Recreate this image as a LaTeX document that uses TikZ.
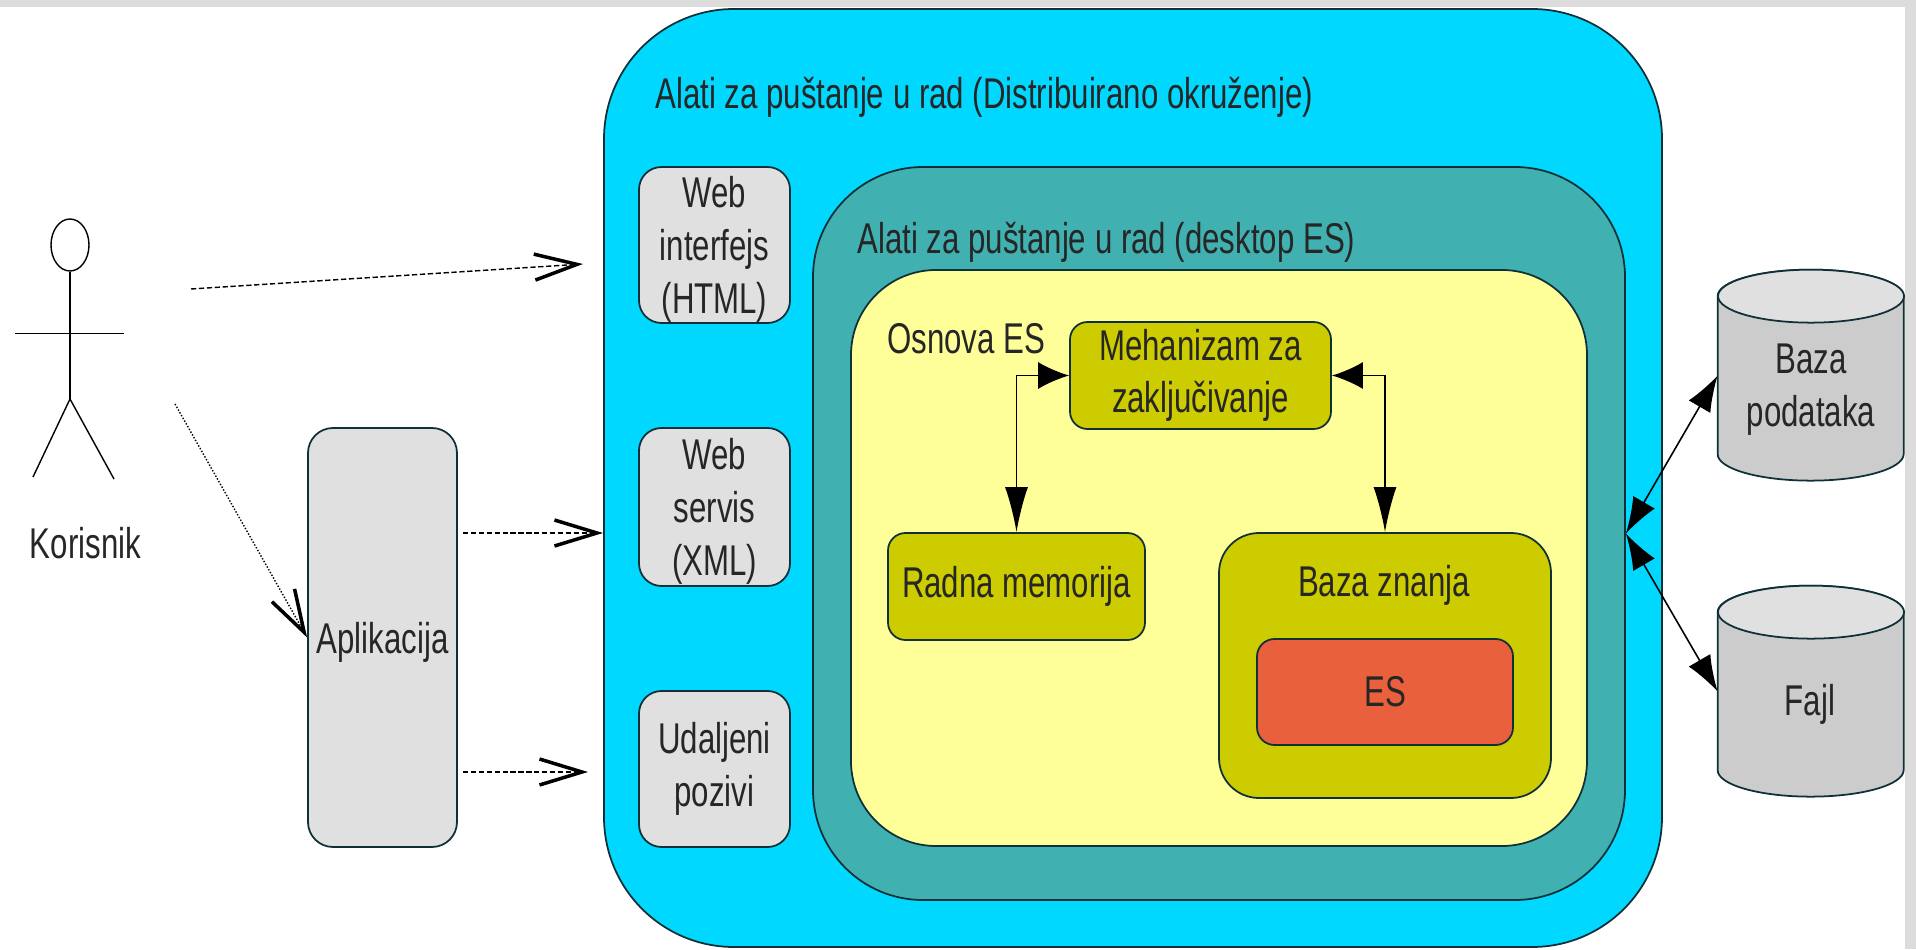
\documentclass[tikz,border=0pt]{standalone}
\usepackage{fontspec}
\setmainfont[FakeStretch=0.725]{Liberation Sans}
\usetikzlibrary{arrows.meta,shapes.geometric}
\definecolor{outercol}{HTML}{00D8FF}
\definecolor{tealcol}{HTML}{40B0B0}
\definecolor{yellowcol}{HTML}{FFFF99}
\definecolor{olivecol}{HTML}{CCCC00}
\definecolor{redcol}{HTML}{E8603C}
\definecolor{graycol}{HTML}{E0E0E0}
\definecolor{bandcol}{HTML}{DCDCDC}
\definecolor{edgecol}{HTML}{103038}
\tikzset{
	every node/.style={font=\fontsize{24.5}{30}\selectfont,text=black!85,align=center,inner sep=0pt},
	box/.style={draw=edgecol,line width=1pt},
	call/.style={dash pattern=on 3pt off 1.5pt,line width=0.8pt,-{Straight Barb[length=0.85cm,width=0.52cm,line width=2pt]}},
	link/.style={line width=0.9pt,{Latex[length=0.72cm,width=0.5cm]}-{Latex[length=0.72cm,width=0.5cm]}},
	turn/.style={line width=1pt,{Latex[length=0.62cm,width=0.54cm]}-{Latex[length=0.9cm,width=0.46cm]}}
}
\begin{document}
\begin{tikzpicture}
	\useasboundingbox (0,0) rectangle (38.32,18.98);
	\fill[bandcol] (0,18.84) rectangle (38.32,18.98);
	\fill[bandcol] (38.1,0) rectangle (38.32,18.98);

	\path
	coordinate (aux0) at (3.82,13.2)
	coordinate (aux1) at (11.66,13.7)
	coordinate (aux2) at (3.5,10.9)
	coordinate (aux3) at (9.26,8.32)
	coordinate (aux4) at (12.06,8.32)
	coordinate (aux5) at (9.26,3.54)
	coordinate (aux6) at (11.76,3.54)
	coordinate (hip) at (1.4,11)
	coordinate (armL) at (0.3,12.31)
	coordinate (armR) at (2.48,12.31)
	coordinate (legL) at (0.66,9.44)
	coordinate (legR) at (2.28,9.4)
	;

	% containers
	\node[box,fill=outercol,rounded corners=2.6cm,minimum width=21.16cm,minimum height=18.76cm] (outer) at (22.66,9.42) {};
	\node[box,fill=tealcol,rounded corners=2.2cm,minimum width=16.24cm,minimum height=14.66cm] (desk) at (24.38,8.31) {};
	\node[box,fill=yellowcol,rounded corners=1.7cm,minimum width=14.72cm,minimum height=11.52cm] (core) at (24.38,7.82) {};

	\node[anchor=west] (outerT) at (13.1,17.03) {Alati za puštanje u rad (Distribuirano okruženje)};
	\node[anchor=west] (deskT) at (17.14,14.13) {Alati za puštanje u rad (desktop ES)};
	\node[anchor=west] (coreT) at (17.74,12.2) {Osnova ES};

	% left column
	\node[box,fill=graycol,rounded corners=0.45cm,minimum width=3.02cm,minimum height=3.12cm,text depth=0pt] (html) at (14.29,14.08) {Web\\interfejs\\(HTML)};
	\node[box,fill=graycol,rounded corners=0.45cm,minimum width=3.02cm,minimum height=3.16cm,text depth=0pt] (xml) at (14.29,8.84) {Web\\servis\\(XML)};
	\node[box,fill=graycol,rounded corners=0.45cm,minimum width=3.02cm,minimum height=3.12cm] (rpc) at (14.29,3.6) {Udaljeni\\pozivi};

	% core
	\node[box,fill=olivecol,rounded corners=0.35cm,minimum width=5.22cm,minimum height=2.14cm] (infer) at (24.01,11.47) {Mehanizam za\\zaključivanje};
	\node[box,fill=olivecol,rounded corners=0.35cm,minimum width=5.14cm,minimum height=2.14cm] (mem) at (20.33,7.25) {Radna memorija};
	\node[box,fill=olivecol,rounded corners=0.8cm,minimum width=6.64cm,minimum height=5.3cm] (kb) at (27.7,5.67) {};
	\node (kbT) at (27.68,7.28) {Baza znanja};
	\node[box,fill=redcol,rounded corners=0.35cm,minimum width=5.12cm,minimum height=2.12cm] (es) at (27.7,5.14) {ES};

	\draw[turn] (infer.west) -| (mem.north);
	\draw[turn] (infer.east) -| (kb.north);

	% actor
	\node[draw,line width=0.8pt,ellipse,minimum width=0.76cm,minimum height=1.04cm] (head) at (1.4,14.08) {};
	\draw[line width=0.8pt] (head.south) -- (hip);
	\draw[line width=0.8pt] (armL) -- (armR);
	\draw[line width=0.8pt] (legL) -- (hip) -- (legR);
	\node (user) at (1.71,8.11) {Korisnik};

	\node[box,fill=graycol,rounded corners=0.5cm,minimum width=2.98cm,minimum height=8.38cm,text depth=0pt] (app) at (7.65,6.23) {Aplikacija};

	% stores
	\node[minimum width=3.72cm,minimum height=4.22cm] (db) at (36.22,11.47) {};
	\node[minimum width=3.72cm,minimum height=4.22cm] (file) at (36.22,5.15) {};
	\foreach \st in {db,file}{
		\draw[box,fill=black!20] (\st.north west) ++(0,-0.53) -- ++(0,-3.16)
		arc[start angle=180,end angle=360,x radius=1.86,y radius=0.53] -- ++(0,3.16)
		arc[start angle=0,end angle=180,x radius=1.86,y radius=0.53] -- cycle;
		\draw[box,fill=graycol] (\st.north) ++(0,-0.53) ellipse[x radius=1.86,y radius=0.53];
	}
	\node (dbT) at (36.22,11.18) {Baza\\podataka};
	\node (fileT) at (36.2,4.9) {Fajl};

	\draw[call] (aux0) -- (aux1);
	\draw[call,densely dotted] (aux2) -- (app.west);
	\draw[call] (aux3) -- (aux4);
	\draw[call] (aux5) -- (aux6);

	\draw[link] (desk.east) -- (db.west);
	\draw[link] (desk.east) -- (file.west);
\end{tikzpicture}
\end{document}
